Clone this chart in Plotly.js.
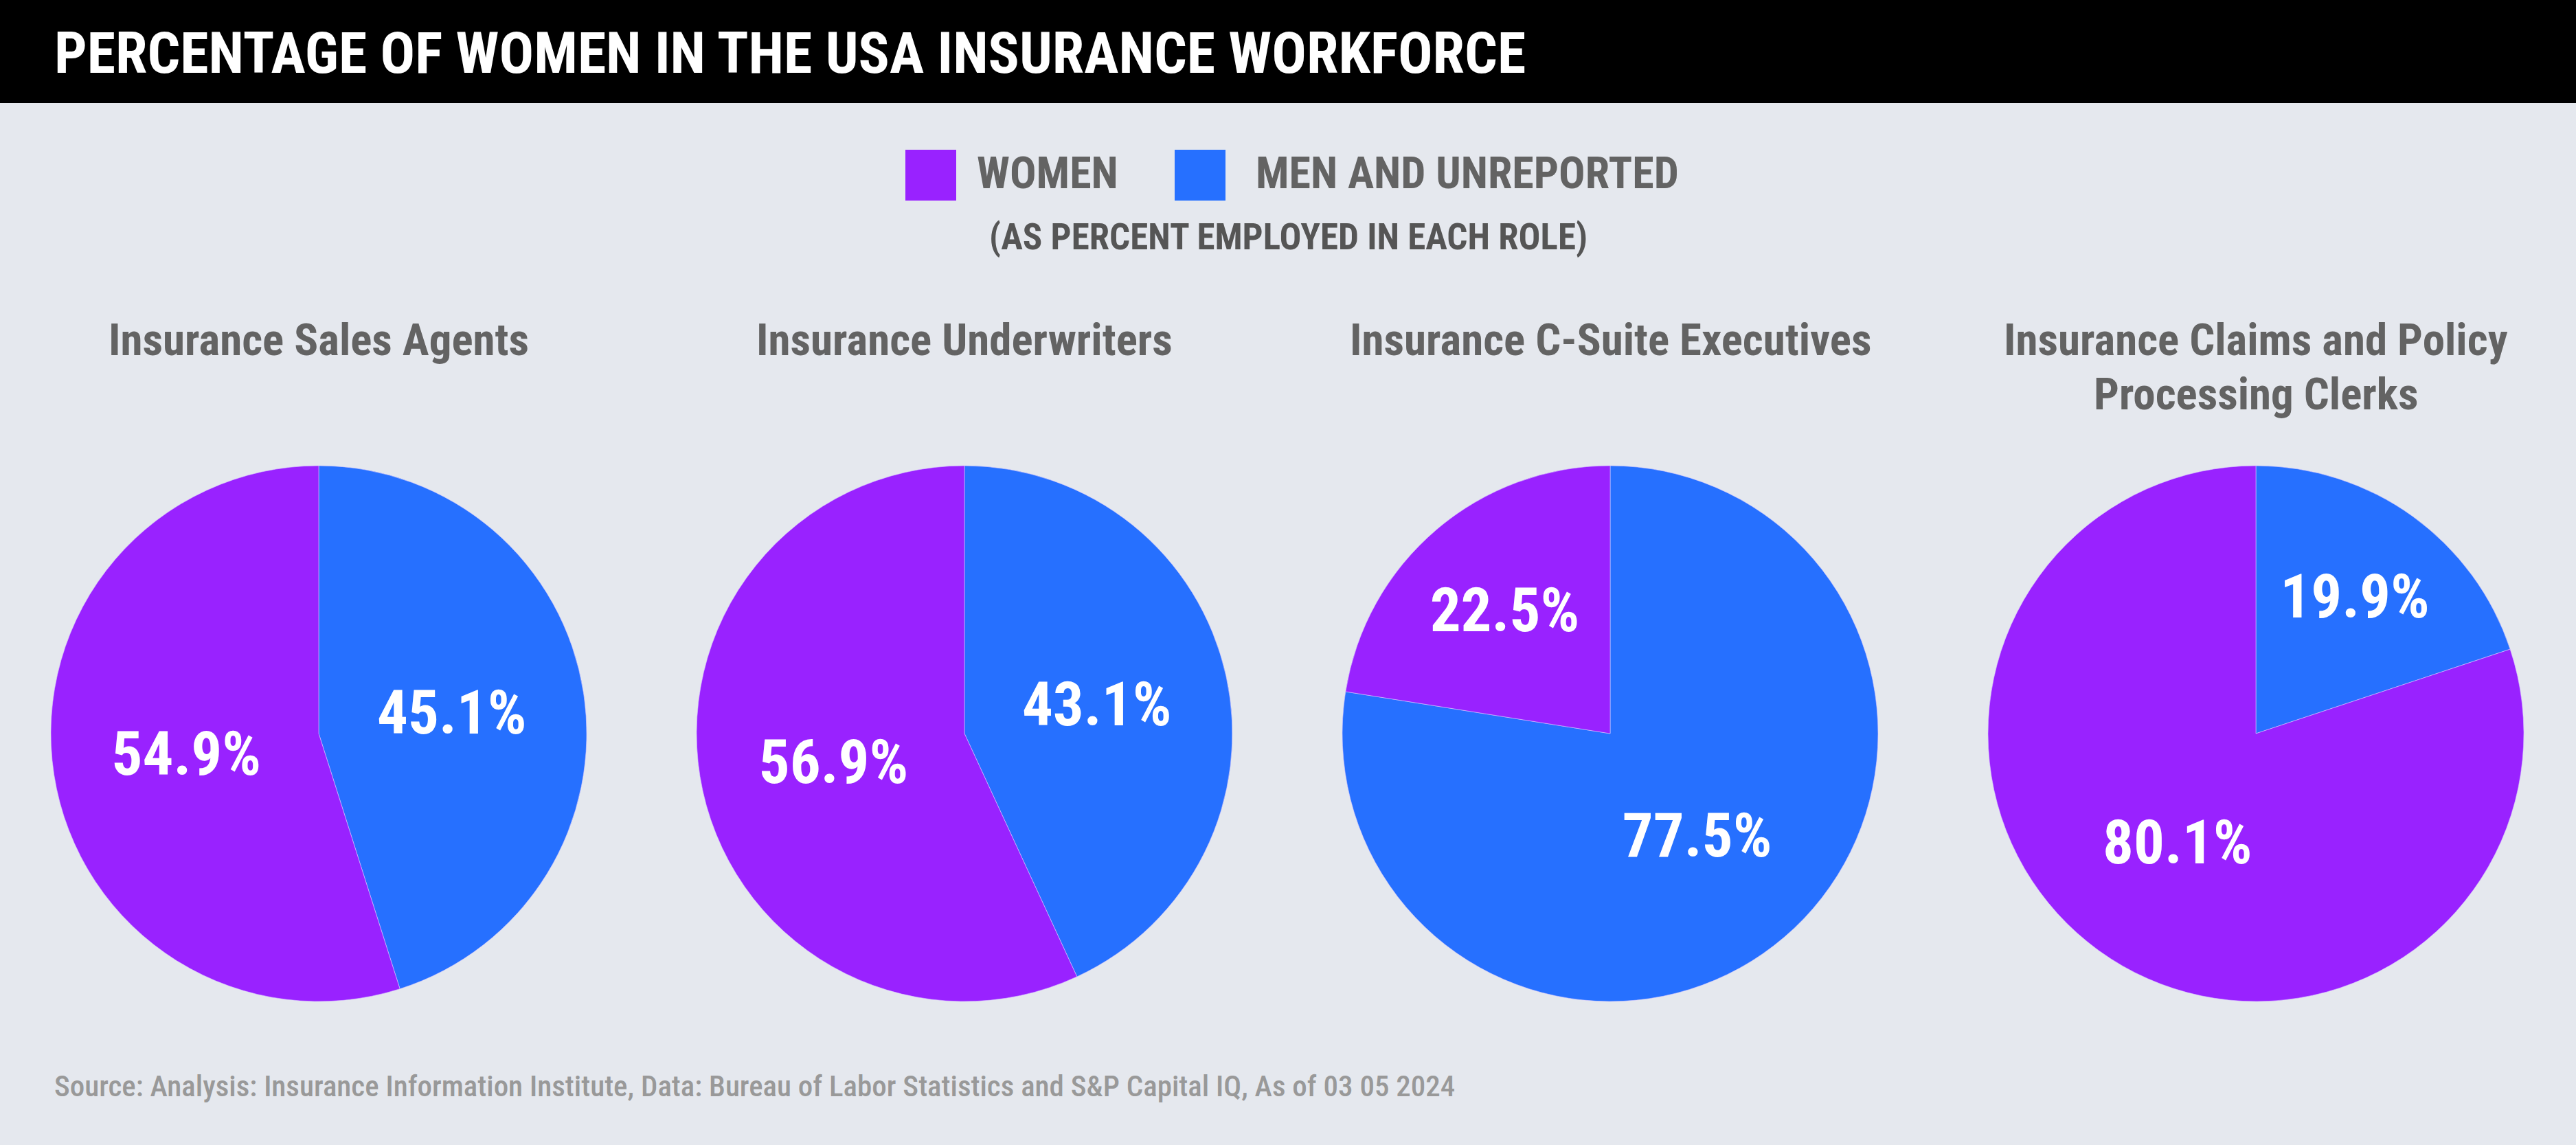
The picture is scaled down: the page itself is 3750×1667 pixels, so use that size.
<!DOCTYPE html>
<html>
<head>
<meta charset="utf-8">
<script src="https://cdn.plot.ly/plotly-3.0.1.min.js"></script>
<style>html,body{margin:0;padding:0;background:#E5E8EE;}</style>
</head>
<body>
<div id="chart" style="width:3750px;height:1667px;"></div>
<script>
// ---- data ----
const roles = [
  'Insurance Sales Agents',
  'Insurance Underwriters',
  'Insurance C-Suite Executives',
  'Insurance Claims and Policy<br>Processing Clerks'
];
const seriesNames = ['WOMEN', 'MEN AND UNREPORTED'];
const womenPct = [54.9, 56.9, 22.5, 80.1];
const menPct = [45.1, 43.1, 77.5, 19.9];
const seriesColors = ['#9922FF', '#2670FF'];
const chartTitle = 'PERCENTAGE OF WOMEN IN THE USA INSURANCE WORKFORCE';
const legendNote = '(AS PERCENT EMPLOYED IN EACH ROLE)';
const sourceText = 'Source: Analysis: Insurance Information Institute, Data: Bureau of Labor Statistics and S&P Capital IQ, As of 03 05 2024';

// ---- layout constants ----
const W = 3750, H = 1667;
const FONT = '"Roboto Condensed", Roboto, "Liberation Sans", sans-serif';
const bg = '#E5E8EE';
const px = v => v / W;
const py = v => 1 - v / H;

const firstCx = 464, stepCx = 940, R = 390, cy = 1068;

// slices drawn clockwise from 12 o'clock: men first (right side), women after (left side)
const traces = roles.map((r, i) => {
  const cx = firstCx + stepCx * i;
  return {
    type: 'pie',
    labels: [seriesNames[1], seriesNames[0]],
    values: [menPct[i], womenPct[i]],
    marker: { colors: [seriesColors[1], seriesColors[0]], line: { color: '#D8C8FF', width: 0.6 } },
    sort: false,
    direction: 'clockwise',
    rotation: 0,
    texttemplate: '%{value:.1f}%',
    textposition: 'inside',
    insidetextorientation: 'horizontal',
    textfont: { family: FONT, size: 89, color: '#FFFFFF', weight: 'bold' },
    hoverinfo: 'skip',
    showlegend: false,
    domain: { x: [px(cx - R), px(cx + R)], y: [1 - (cy + R) / H, 1 - (cy - R) / H] }
  };
});

const annotations = [];
roles.forEach((r, i) => {
  r.split('<br>').forEach((line, k) => {
    annotations.push({
      xref: 'paper', yref: 'paper', x: px(firstCx + stepCx * i), y: py(455 + 79 * k),
      xanchor: 'center', yanchor: 'top', showarrow: false, align: 'center',
      text: line, font: { family: FONT, size: 65, color: '#636363', weight: 'bold' }
    });
  });
});

// legend (drawn manually: large squares)
const legendSquares = [1318, 1710];
const legendTextX = [1420, 1826];
const shapes = [
  { type: 'rect', xref: 'paper', yref: 'paper', x0: 0, x1: 1, y0: py(150), y1: 1, fillcolor: '#000000', line: { width: 0 }, layer: 'below' }
];
seriesNames.forEach((n, i) => {
  shapes.push({ type: 'rect', xref: 'paper', yref: 'paper',
    x0: px(legendSquares[i]), x1: px(legendSquares[i] + 74), y0: py(292), y1: py(218),
    fillcolor: seriesColors[i], line: { width: 0 } });
  annotations.push({ xref: 'paper', yref: 'paper', x: px(legendTextX[i]), y: py(253),
    xanchor: 'left', yanchor: 'middle', showarrow: false, text: n,
    font: { family: FONT, size: 64, color: '#636363', weight: 'bold' } });
});
annotations.push({ xref: 'paper', yref: 'paper', x: px(1875), y: py(345),
  xanchor: 'center', yanchor: 'middle', showarrow: false, text: legendNote,
  font: { family: FONT, size: 53, color: '#555555', weight: 'bold' } });
annotations.push({ xref: 'paper', yref: 'paper', x: px(77), y: py(1581),
  xanchor: 'left', yanchor: 'middle', showarrow: false, text: sourceText,
  font: { family: FONT, size: 43, color: '#999999', weight: 500 } });

const layout = {
  width: W, height: H,
  margin: { l: 0, r: 0, t: 0, b: 0 },
  paper_bgcolor: bg, plot_bgcolor: bg,
  title: { text: chartTitle, x: px(79), xanchor: 'left', xref: 'paper', y: py(77), yanchor: 'middle', yref: 'container',
    font: { family: FONT, size: 84, color: '#FFFFFF', weight: 'bold' } },
  showlegend: false,
  shapes: shapes,
  annotations: annotations
};

Plotly.newPlot('chart', traces, layout, { staticPlot: true, displayModeBar: false });
</script>
</body>
</html>
